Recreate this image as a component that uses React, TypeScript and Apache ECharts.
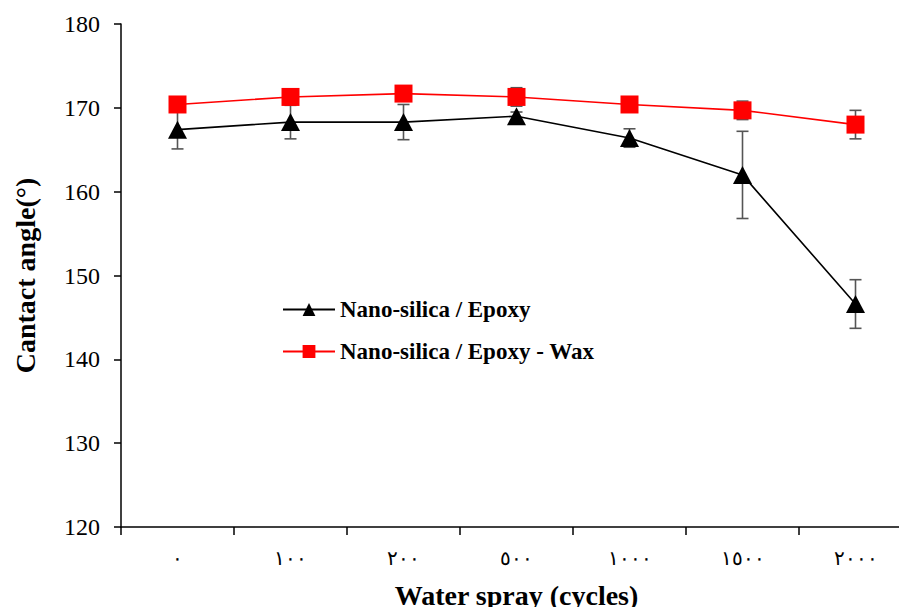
import React, { useEffect, useRef } from "react";
import * as echarts from "echarts";

const categories = ["٠", "١٠٠", "٢٠٠", "٥٠٠", "١٠٠٠", "١٥٠٠", "٢٠٠٠"];
const epoxyValues = [167.4, 168.3, 168.3, 169.0, 166.4, 162.0, 146.6];
const epoxyErrors = [2.3, 2.0, 2.1, 0.5, 1.1, 5.2, 2.9];
const waxValues = [170.4, 171.3, 171.7, 171.3, 170.4, 169.7, 168.0];
const waxErrors = [0.3, 0.3, 0.3, 1.1, 0.3, 1.1, 1.7];
const seriesNames = ["Nano-silica / Epoxy", "Nano-silica / Epoxy - Wax"];

const FONT = "Liberation Serif";

function errorSeries(values: number[], errs: number[]) {
  return {
    type: "custom",
    silent: true,
    z: 1,
    data: values.map((v, i) => [i, v - errs[i], v + errs[i]]),
    renderItem: (params: any, api: any) => {
      const x = api.value(0);
      const lo = api.coord([x, api.value(1)]);
      const hi = api.coord([x, api.value(2)]);
      const cap = 6;
      const style = { stroke: "#555555", lineWidth: 1.6 };
      return {
        type: "group",
        children: [
          { type: "line", shape: { x1: lo[0], y1: lo[1], x2: hi[0], y2: hi[1] }, style },
          { type: "line", shape: { x1: lo[0] - cap, y1: lo[1], x2: lo[0] + cap, y2: lo[1] }, style },
          { type: "line", shape: { x1: hi[0] - cap, y1: hi[1], x2: hi[0] + cap, y2: hi[1] }, style },
        ],
      };
    },
  };
}

export default function App() {
  const ref = useRef<HTMLDivElement>(null);
  useEffect(() => {
    if (!ref.current) return;
    const chart = echarts.init(ref.current, undefined, { renderer: "svg" });
    chart.setOption({
      animation: false,
      backgroundColor: "#ffffff",
      textStyle: { fontFamily: FONT },
      grid: { left: 121, top: 24, width: 791, height: 503, outerBoundsMode: "none", containLabel: false },
      legend: {
        orient: "vertical",
        left: 277,
        top: 293,
        itemGap: 19,
        itemWidth: 52,
        itemHeight: 16,
        data: seriesNames,
        textStyle: { fontFamily: FONT, fontWeight: "bold", fontSize: 23, color: "#000" },
      },
      xAxis: {
        type: "category",
        data: categories,
        boundaryGap: true,
        axisLine: { lineStyle: { color: "#000", width: 1.5 } },
        axisTick: { show: true, alignWithLabel: false, length: 8, lineStyle: { color: "#000", width: 1.5 } },
        axisLabel: { margin: 21, fontFamily: FONT, fontSize: 20, color: "#000" },
        name: "Water spray (cycles)",
        nameLocation: "middle",
        nameGap: 54,
        nameTextStyle: { fontFamily: FONT, fontWeight: "bold", fontSize: 28, color: "#000" },
      },
      yAxis: {
        type: "value",
        min: 120,
        max: 180,
        interval: 10,
        splitLine: { show: false },
        axisLine: { show: true, lineStyle: { color: "#000", width: 1.5 } },
        axisTick: { show: true, length: 7, lineStyle: { color: "#000", width: 1.5 } },
        axisLabel: { margin: 21, fontFamily: FONT, fontSize: 24, color: "#000" },
        name: "Cantact angle(°)",
        nameLocation: "middle",
        nameGap: 82,
        nameTextStyle: { fontFamily: FONT, fontWeight: "bold", fontSize: 28, color: "#000" },
      },
      series: [
        errorSeries(epoxyValues, epoxyErrors),
        errorSeries(waxValues, waxErrors),
        {
          name: seriesNames[0],
          type: "line",
          z: 3,
          data: epoxyValues,
          symbol: "triangle",
          symbolSize: [19, 18],
          lineStyle: { color: "#000", width: 1.6 },
          itemStyle: { color: "#000" },
        },
        {
          name: seriesNames[1],
          type: "line",
          z: 4,
          data: waxValues,
          symbol: "rect",
          symbolSize: 18,
          lineStyle: { color: "#ff0000", width: 1.6 },
          itemStyle: { color: "#ff0000" },
        },
      ],
    });
    return () => chart.dispose();
  }, []);
  return (
    <div
      ref={ref}
      style={{ position: "fixed", left: 0, top: 0, width: 899, height: 607, overflow: "hidden" }}
    />
  );
}
